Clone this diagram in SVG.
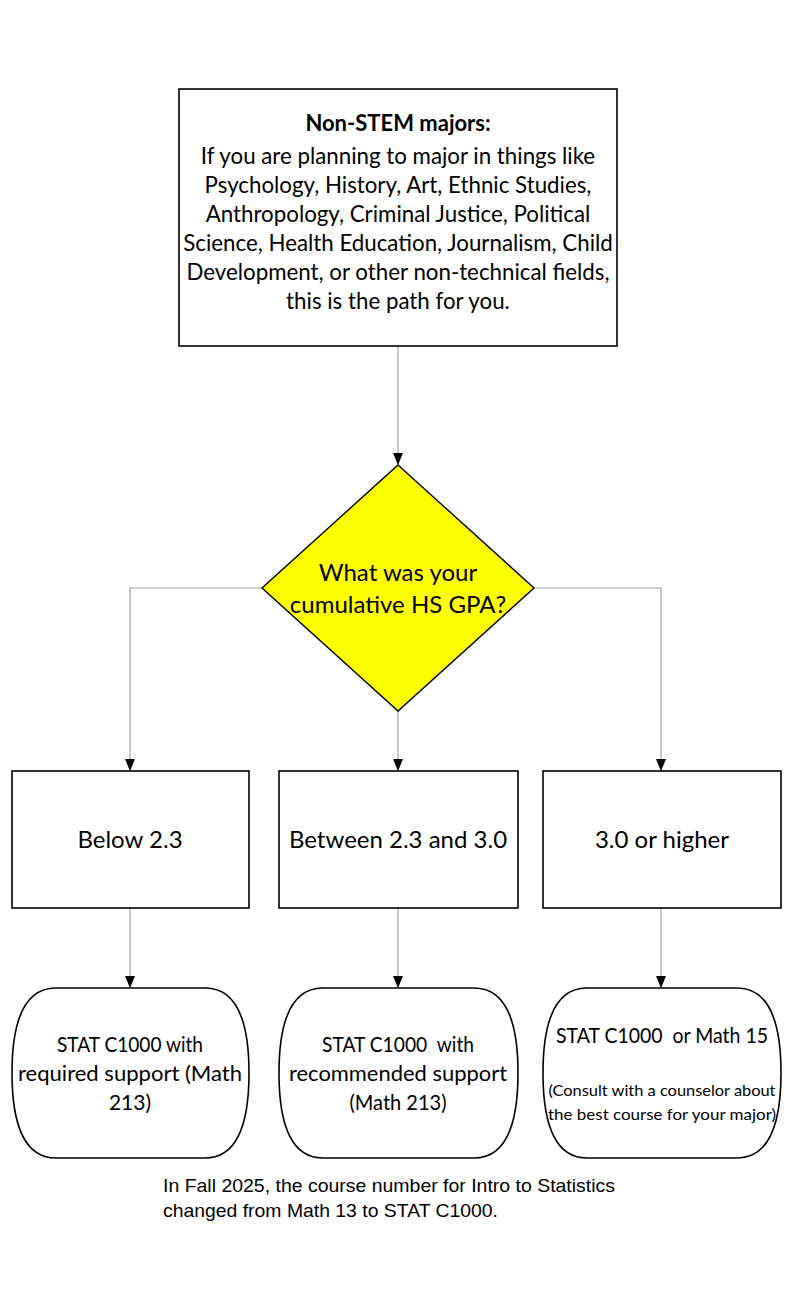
<svg xmlns="http://www.w3.org/2000/svg" width="800" height="1302" viewBox="0 0 800 1302">
<defs>
<marker id="arr" viewBox="0 0 12 10" refX="12" refY="5" markerWidth="12" markerHeight="10" markerUnits="userSpaceOnUse" orient="auto">
<path d="M0,0 L12,5 L0,10 Z" fill="#000"/>
</marker>
<style>
.box{fill:#fff;stroke:#000;stroke-width:1.6}
.dia{fill:#ffff00;stroke:#000;stroke-width:1.4}
.con{fill:none;stroke:#a0a0a0;stroke-width:1.2}
.t{font-family:Lato,"Open Sans","Liberation Sans",sans-serif;fill:#000;text-anchor:middle}
.n{font-family:"Liberation Sans",Arial,sans-serif;fill:#000}
</style>
</defs>
<rect width="800" height="1302" fill="#fff"/>
<g id="connectors">
<path class="con" d="M398,346 V465" marker-end="url(#arr)"/>
<path class="con" d="M262,588 H130 V771" marker-end="url(#arr)"/>
<path class="con" d="M398,711 V771" marker-end="url(#arr)"/>
<path class="con" d="M534,588 H661 V771" marker-end="url(#arr)"/>
<path class="con" d="M130,908 V988" marker-end="url(#arr)"/>
<path class="con" d="M398,908 V988" marker-end="url(#arr)"/>
<path class="con" d="M661,908 V988" marker-end="url(#arr)"/>
</g>
<g id="intro">
<rect class="box" x="179" y="89" width="438" height="257"/>
<text class="t" x="398" y="131" font-size="22" font-weight="bold">Non-STEM majors:</text>
<text class="t" x="398" y="164" font-size="22.3">If you are planning to major in things like</text>
<text class="t" x="398" y="193" font-size="22.3">Psychology, History, Art, Ethnic Studies,</text>
<text class="t" x="398" y="222" font-size="22.3">Anthropology, Criminal Justice, Political</text>
<text class="t" x="398" y="251" font-size="22.3">Science, Health Education, Journalism, Child</text>
<text class="t" x="398" y="280" font-size="22.3">Development, or other non-technical fields,</text>
<text class="t" x="398" y="309" font-size="22.3">this is the path for you.</text>
</g>
<g id="decision">
<polygon class="dia" points="398,465 534,588 398,711 262,588"/>
<text class="t" x="398" y="581" font-size="24">What was your</text>
<text class="t" x="398" y="613" font-size="24">cumulative HS GPA?</text>
</g>
<g id="below">
<rect class="box" x="12" y="771" width="237" height="137"/>
<text class="t" x="130" y="848" font-size="24">Below 2.3</text>
</g>
<g id="between">
<rect class="box" x="279" y="771" width="239" height="137"/>
<text class="t" x="398" y="848" font-size="24">Between 2.3 and 3.0</text>
</g>
<g id="higher">
<rect class="box" x="543" y="771" width="238" height="137"/>
<text class="t" x="662" y="848" font-size="24">3.0 or higher</text>
</g>
<g id="out-below">
<path class="box" d="M56,988 H205 C238,988 249,1025 249,1073 C249,1121 238,1158 205,1158 H56 C23,1158 12,1121 12,1073 C12,1025 23,988 56,988 Z"/>
<text class="t" x="130" y="1052" font-size="21" textLength="146" lengthAdjust="spacingAndGlyphs">STAT C1000 with</text>
<text class="t" x="130" y="1081" font-size="21" textLength="224" lengthAdjust="spacingAndGlyphs">required support (Math</text>
<text class="t" x="130" y="1110" font-size="21">213)</text>
</g>
<g id="out-between">
<path class="box" d="M323,988 H474 C507,988 518,1025 518,1073 C518,1121 507,1158 474,1158 H323 C290,1158 279,1121 279,1073 C279,1025 290,988 323,988 Z"/>
<text class="t" x="398" y="1052" font-size="21" xml:space="preserve" textLength="152" lengthAdjust="spacingAndGlyphs">STAT C1000  with</text>
<text class="t" x="398" y="1081" font-size="21" textLength="218" lengthAdjust="spacingAndGlyphs">recommended support</text>
<text class="t" x="398" y="1110" font-size="21" textLength="97" lengthAdjust="spacingAndGlyphs">(Math 213)</text>
</g>
<g id="out-higher">
<path class="box" d="M587,988 H737 C770,988 781,1025 781,1073 C781,1121 770,1158 737,1158 H587 C554,1158 543,1121 543,1073 C543,1025 554,988 587,988 Z"/>
<text class="t" x="662" y="1043" font-size="21" xml:space="preserve" textLength="212" lengthAdjust="spacingAndGlyphs">STAT C1000  or Math 15</text>
<text class="t" x="662" y="1096" font-size="16" textLength="227" lengthAdjust="spacingAndGlyphs">(Consult with a counselor about</text>
<text class="t" x="662" y="1120" font-size="16" textLength="228" lengthAdjust="spacingAndGlyphs">the best course for your major)</text>
</g>
<g id="note">
<text class="n" x="163" y="1192" font-size="18.5" textLength="452" lengthAdjust="spacingAndGlyphs">In Fall 2025, the course number for Intro to Statistics</text>
<text class="n" x="163" y="1217" font-size="18.5" textLength="335" lengthAdjust="spacingAndGlyphs">changed from Math 13 to STAT C1000.</text>
</g>
</svg>
